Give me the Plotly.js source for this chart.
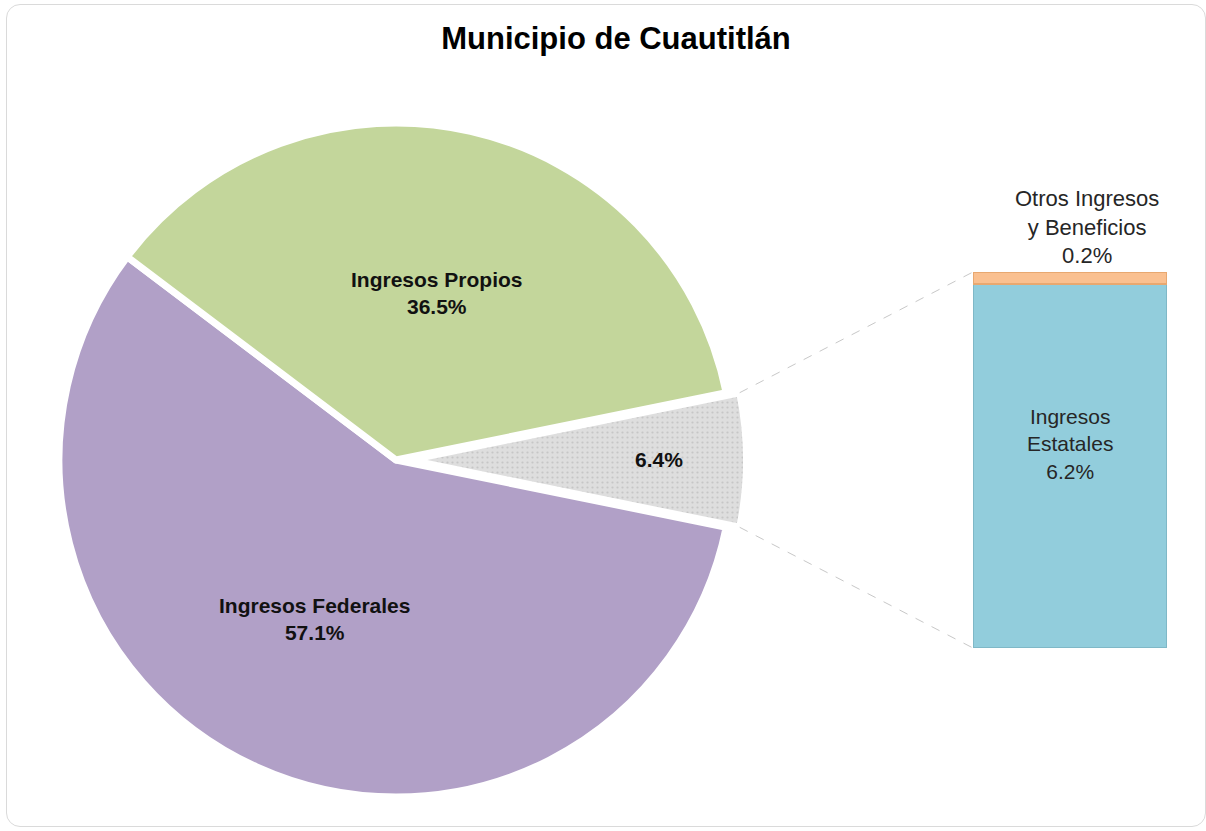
<!DOCTYPE html>
<html>
<head>
<meta charset="utf-8">
<script src="https://cdn.plot.ly/plotly-3.0.1.min.js"></script>
<style>
  html, body { margin: 0; padding: 0; background: #ffffff; }
  #wrap { position: relative; width: 1206px; height: 831px; }
  #chart { width: 1206px; height: 831px; }
  #frame { position: absolute; left: 6px; top: 4px; width: 1198px; height: 821px;
           border: 1px solid #dadada; border-radius: 14px; pointer-events: none; }
</style>
</head>
<body>
<div id="wrap"><div id="chart"></div><div id="frame"></div></div>
<script>
// ---- data ----
const titleText = 'Municipio de Cuautitlán';
const pieLabels = ['', 'Ingresos Federales', 'Ingresos Propios'];
const pieValues = [6.4, 57.1, 36.5];
const pieColors = ['#DEDEDE', '#B1A0C7', '#C3D69B'];
const barLabels = ['Ingresos<br>Estatales', 'Otros Ingresos<br>y Beneficios'];
const barValues = [6.2, 0.2];
const barColors = ['#92CDDC', '#FAC090'];

// ---- geometry / style ----
const W = 1206, H = 831;
const pieCx = 396, pieCy = 460, pieR = 337;
const grayPull = 0.04;
const labelRadius = [0.74, 0.53, 0.51];   // label distance along slice bisector (fraction of radius)
const labelAngleShift = [0, -3, -1];       // small angular nudges (degrees)
const barX0 = 973, barX1 = 1167, barTop = 272, barBot = 648;
const FONT = 'Liberation Sans, Arial, sans-serif';

const total = pieValues.reduce((a, b) => a + b, 0);
const sliceDeg = pieValues.map(v => v / total * 360);
const rotation = 90 - sliceDeg[0] / 2;

const side = 2 * pieR * (1 + grayPull);
const pieDomainX = [(pieCx - side / 2) / W, (pieCx + side / 2) / W];
const pieDomainY = [(H - pieCy - side / 2) / H, (H - pieCy + side / 2) / H];

const barSum = barValues.reduce((a, b) => a + b, 0);
const pulls = [grayPull, 0, 0];

const pie = {
  type: 'pie',
  labels: pieLabels.map((l, i) => l || ('s' + i)),
  values: pieValues,
  sort: false,
  direction: 'clockwise',
  rotation: rotation,
  pull: pulls,
  marker: {
    colors: pieColors,
    line: { color: '#ffffff', width: 7 },
    pattern: { shape: ['.', '', ''], fgcolor: '#c6c6c6', bgcolor: '#DEDEDE', size: 5, solidity: 0.15 }
  },
  textinfo: 'none',
  domain: { x: pieDomainX, y: pieDomainY },
  hoverinfo: 'none',
  showlegend: false
};

const barTraces = barLabels.map((lab, i) => ({
  type: 'bar',
  x: [0],
  y: [barValues[i]],
  name: lab,
  xaxis: 'x2',
  yaxis: 'y2',
  width: [1],
  marker: { color: barColors[i], line: { color: i === 0 ? '#7FB8C7' : '#E8A870', width: 1.5 } },
  textposition: 'none',
  hoverinfo: 'none',
  showlegend: false
}));

// ---- pie label annotations placed along each slice bisector ----
const d2r = Math.PI / 180;
const annotations = [];
let start = sliceDeg[0] / 2; // math angle where the first slice starts; slices run clockwise
for (let i = 0; i < pieValues.length; i++) {
  const midDeg = start - sliceDeg[i] / 2;
  const mid = midDeg * d2r;
  const lab = (midDeg + labelAngleShift[i]) * d2r;
  const cxp = pieCx + pulls[i] * pieR * Math.cos(mid);
  const cyp = pieCy - pulls[i] * pieR * Math.sin(mid);
  const px = cxp + labelRadius[i] * pieR * Math.cos(lab);
  const py = cyp - labelRadius[i] * pieR * Math.sin(lab);
  const pct = pieValues[i].toFixed(1) + '%';
  annotations.push({
    xref: 'paper', yref: 'paper', x: px / W, y: 1 - py / H,
    text: '<b>' + (pieLabels[i] ? pieLabels[i] + '<br>' : '') + pct + '</b>',
    showarrow: false, xanchor: 'center', yanchor: 'middle',
    font: { family: FONT, size: 21, color: '#111111' }
  });
  start -= sliceDeg[i];
}

// bar labels
annotations.push({
  xref: 'x2', yref: 'y2', x: 0, y: barValues[0] / 2,
  text: barLabels[0] + '<br>' + barValues[0].toFixed(1) + '%',
  showarrow: false, xanchor: 'center', yanchor: 'middle', yshift: 22,
  font: { family: FONT, size: 21, color: '#262626' }
});
annotations.push({
  xref: 'x2', yref: 'y2', x: 0, y: barSum,
  text: barLabels[1] + '<br>' + barValues[1].toFixed(1) + '%',
  showarrow: false, xanchor: 'center', yanchor: 'bottom', yshift: 2, xshift: 17,
  font: { family: FONT, size: 22, color: '#262626' }
});

// connectors from gray slice corners to bar corners
const half = sliceDeg[0] / 2 * d2r;
const pcx = pieCx + grayPull * pieR, pcy = pieCy;
const topCorner = [pcx + pieR * Math.cos(half), pcy - pieR * Math.sin(half)];
const botCorner = [pcx + pieR * Math.cos(half), pcy + pieR * Math.sin(half)];

const shapes = [
  { type: 'line', xref: 'paper', yref: 'paper',
    x0: topCorner[0] / W, y0: 1 - topCorner[1] / H, x1: barX0 / W, y1: 1 - barTop / H,
    line: { color: '#c8c8c8', width: 1, dash: 'dash' } },
  { type: 'line', xref: 'paper', yref: 'paper',
    x0: botCorner[0] / W, y0: 1 - botCorner[1] / H, x1: barX0 / W, y1: 1 - barBot / H,
    line: { color: '#c8c8c8', width: 1, dash: 'dash' } }
];

const layout = {
  width: W, height: H,
  margin: { l: 0, r: 0, t: 0, b: 0 },
  paper_bgcolor: 'rgba(0,0,0,0)',
  plot_bgcolor: 'rgba(0,0,0,0)',
  title: {
    text: '<b>' + titleText + '</b>',
    x: 616 / W, xanchor: 'center', y: 1 - 38 / H, yanchor: 'middle',
    font: { family: FONT, size: 31, color: '#000000' }
  },
  barmode: 'stack',
  xaxis2: { domain: [barX0 / W, barX1 / W], range: [-0.5, 0.5], visible: false, fixedrange: true },
  yaxis2: { domain: [1 - barBot / H, 1 - barTop / H], range: [0, barSum], visible: false, fixedrange: true, anchor: 'x2' },
  shapes: shapes,
  annotations: annotations,
  showlegend: false
};

Plotly.newPlot('chart', [pie].concat(barTraces), layout, { displayModeBar: false, staticPlot: true });
</script>
</body>
</html>
